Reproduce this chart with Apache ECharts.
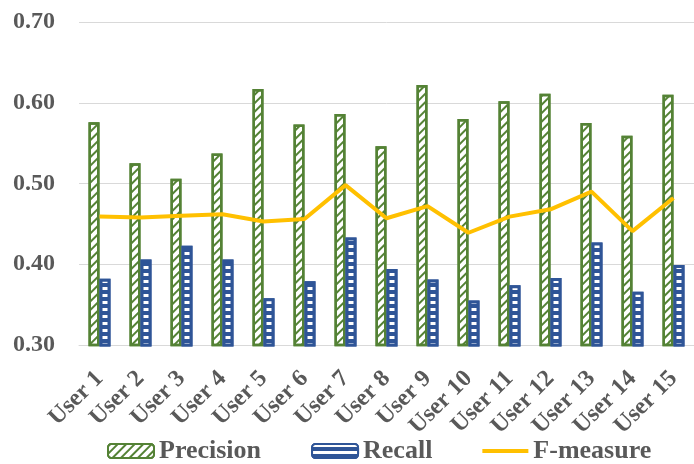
<!DOCTYPE html>
<html>
<head>
<meta charset="utf-8">
<script src="https://cdn.jsdelivr.net/npm/echarts@6/dist/echarts.min.js"></script>
<style>
  html, body { margin: 0; padding: 0; background: #fff; overflow: hidden; }
  #chart { width: 694px; height: 464px; }
</style>
</head>
<body>
<div id="chart"></div>
<script>
// Per-user retrieval scores
const users = ['User 1', 'User 2', 'User 3', 'User 4', 'User 5', 'User 6', 'User 7', 'User 8',
  'User 9', 'User 10', 'User 11', 'User 12', 'User 13', 'User 14', 'User 15'];
const precision = [0.576, 0.525, 0.506, 0.537, 0.617, 0.573, 0.586, 0.546,
  0.622, 0.580, 0.602, 0.611, 0.575, 0.559, 0.610];
const recall = [0.382, 0.406, 0.423, 0.406, 0.358, 0.379, 0.433, 0.394,
  0.381, 0.355, 0.374, 0.383, 0.427, 0.366, 0.399];
const fMeasure = [0.459, 0.458, 0.460, 0.462, 0.453, 0.456, 0.498, 0.457,
  0.472, 0.439, 0.459, 0.468, 0.490, 0.441, 0.482];
const yTicks = [0.30, 0.40, 0.50, 0.60, 0.70];

const FONT = '"Liberation Serif", "Times New Roman", serif';
const TEXT = '#595959';
const GREEN = '#548235';
const BLUE = '#2f5597';
const GOLD = '#ffc000';

const chart = echarts.init(document.getElementById('chart'), null, { renderer: 'canvas' });

chart.setOption({
  animation: false,
  backgroundColor: '#ffffff',
  grid: { left: 79, right: -11, top: 22, bottom: 119, containLabel: false },
  legend: {
    left: 102,
    top: 433,
    itemWidth: 46,
    itemHeight: 14,
    itemGap: 50,
    textStyle: { fontFamily: FONT, fontWeight: 'bold', fontSize: 26, color: TEXT },
    data: [
      { name: 'Precision' },
      { name: 'Recall' },
      { name: 'F-measure', icon: 'path://M0,0 L100,0 L100,9 L0,9 Z' }
    ]
  },
  xAxis: {
    type: 'category',
    data: users,
    axisLine: { show: true, lineStyle: { color: '#d9d9d9', width: 1 } },
    axisTick: { show: false },
    axisLabel: {
      rotate: 45,
      margin: 30,
      interval: 0,
      fontFamily: FONT,
      fontWeight: 'bold',
      fontSize: 24,
      color: TEXT
    }
  },
  yAxis: {
    type: 'value',
    min: yTicks[0],
    max: yTicks[yTicks.length - 1],
    interval: 0.1,
    axisLine: { show: false },
    axisTick: { show: false },
    splitLine: { lineStyle: { color: '#d9d9d9', width: 1 } },
    axisLabel: {
      margin: 24,
      fontFamily: FONT,
      fontWeight: 'bold',
      fontSize: 24,
      color: TEXT,
      formatter: v => v.toFixed(2)
    }
  },
  series: [
    {
      name: 'Precision',
      type: 'bar',
      data: precision,
      barWidth: 11,
      barGap: '0%',
      itemStyle: {
        color: '#ffffff',
        borderColor: GREEN,
        borderWidth: 2.5,
        decal: {
          symbol: 'rect',
          color: GREEN,
          backgroundColor: null,
          dashArrayX: [1, 0],
          dashArrayY: [2, 4],
          rotation: -Math.PI / 4
        }
      }
    },
    {
      name: 'Recall',
      type: 'bar',
      data: recall,
      barWidth: 11,
      barGap: '0%',
      itemStyle: {
        color: BLUE,
        borderColor: BLUE,
        borderWidth: 3,
        decal: {
          symbol: 'rect',
          color: '#ffffff',
          backgroundColor: null,
          dashArrayX: [1, 0],
          dashArrayY: [2.5, 3.5],
          rotation: 0
        }
      }
    },
    {
      name: 'F-measure',
      type: 'line',
      data: fMeasure,
      symbol: 'none',
      lineStyle: { color: GOLD, width: 4 },
      itemStyle: { color: GOLD }
    }
  ]
});
</script>
</body>
</html>
